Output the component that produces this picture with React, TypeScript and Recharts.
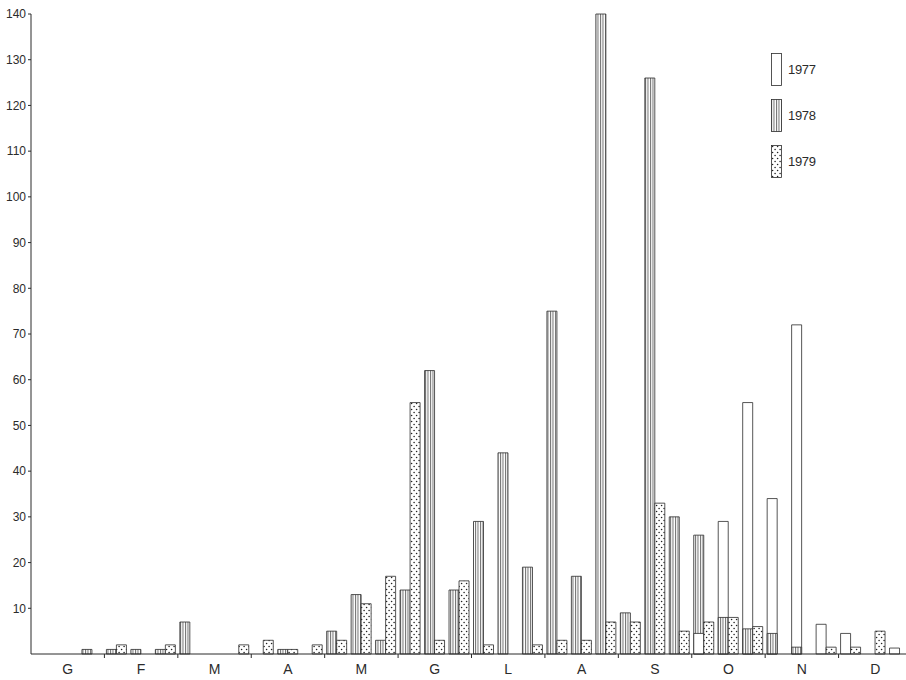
import React from 'react';
import { Bar, BarChart, Cell, XAxis, YAxis } from 'recharts';

// mesi (iniziali italiane), ogni mese diviso in tre decadi
const MONTHS = ['G', 'F', 'M', 'A', 'M', 'G', 'L', 'A', 'S', 'O', 'N', 'D'];

// valori per decade, 36 per anno
const Y1977 = [
  0, 0, 0, 0, 0, 0, 0, 0, 0, 0, 0, 0,
  0, 0, 0, 0, 0, 0, 0, 0, 0, 0, 0, 0,
  0, 0, 0, 4.5, 29, 55, 34, 72, 6.5, 4.5, 0, 1.3,
];
const Y1978 = [
  0, 0, 1, 1, 1, 1, 7, 0, 0, 0, 1, 0,
  5, 13, 3, 14, 62, 14, 29, 44, 19, 75, 17, 140,
  9, 126, 30, 26, 8, 5.5, 4.5, 1.5, 0, 0, 0, 0,
];
const Y1979 = [
  0, 0, 0, 2, 0, 2, 0, 0, 2, 3, 1, 2,
  3, 11, 17, 55, 3, 16, 2, 0, 2, 3, 3, 7,
  7, 33, 5, 7, 8, 6, 0, 0, 1.5, 1.5, 5, 0,
];

const YEARS = ['1977', '1978', '1979'];
const Y_TICKS = [10, 20, 30, 40, 50, 60, 70, 80, 90, 100, 110, 120, 130, 140];

const FILL: Record<string, string> = {
  '1977': '#ffffff',
  '1978': 'url(#stripes)',
  '1979': 'url(#dots)',
};

const CHART_W = 912;
const CHART_H = 680;
const Y_AXIS_W = 31;
const X_AXIS_H = 26;
const BAND = (CHART_W - Y_AXIS_W) / 36;
const INK = '#2b2b2b';
const FONT = '"Liberation Sans", Arial, sans-serif';

// 1977 e 1978 si sovrappongono nella stessa colonna: la piu alta sta dietro
const rows = Y1978.map((v78, i) => {
  const v77 = Y1977[i];
  const tallIs77 = v77 >= v78;
  const tall = Math.max(v77, v78);
  const short = Math.min(v77, v78);
  return {
    key: `d${i}`,
    tall: tall > 0 ? tall : null,
    short: short > 0 ? short : null,
    tallYear: tallIs77 ? '1977' : '1978',
    shortYear: tallIs77 ? '1978' : '1977',
    v1979: Y1979[i] > 0 ? Y1979[i] : null,
  };
});

function MonthTick(props: any) {
  const { x, y, index } = props;
  const pos = index % 3;
  return (
    <g>
      {pos === 0 && index > 0 && (
        <line
          x1={x - BAND / 2}
          x2={x - BAND / 2}
          y1={y}
          y2={y + 4}
          stroke={INK}
          strokeWidth={1}
        />
      )}
      {pos === 1 && (
        <text
          x={x}
          y={y + 20}
          textAnchor="middle"
          fontSize={14}
          fontFamily={FONT}
          fill={INK}
        >
          {MONTHS[Math.floor(index / 3)]}
        </text>
      )}
    </g>
  );
}

function Patterns() {
  return (
    <svg width={0} height={0} style={{ position: 'absolute' }}>
      <defs>
        <pattern id="stripes" patternUnits="userSpaceOnUse" width={2.5} height={10}>
          <rect width={2.5} height={10} fill="#ffffff" />
          <rect width={1} height={10} fill="#6e6e6e" />
        </pattern>
        <pattern id="dots" patternUnits="userSpaceOnUse" width={5} height={6}>
          <rect width={5} height={6} fill="#ffffff" />
          <circle cx={1.6} cy={1.5} r={0.8} fill="#222" />
          <circle cx={4.1} cy={4.5} r={0.8} fill="#222" />
        </pattern>
      </defs>
    </svg>
  );
}

function YearLegend() {
  return (
    <div style={{ position: 'absolute', left: 771, top: 53 }}>
      {YEARS.map((year, i) => (
        <div
          key={year}
          style={{ display: 'flex', alignItems: 'center', height: 32, marginBottom: i < 2 ? 14 : 0 }}
        >
          <svg width={11} height={33}>
            <rect x={0.5} y={0.5} width={10} height={32} fill={FILL[year]} stroke={INK} strokeWidth={0.8} />
          </svg>
          <span style={{ marginLeft: 6, fontSize: 13, fontFamily: FONT, color: INK, letterSpacing: -0.3 }}>
            {year}
          </span>
        </div>
      ))}
    </div>
  );
}

export default function App() {
  return (
    <div style={{ position: 'relative', width: 906, height: 680, overflow: 'hidden', background: '#fff' }}>
      <style>{'body{margin:0}'}</style>
      <Patterns />
      <BarChart
        width={CHART_W}
        height={CHART_H}
        data={rows}
        margin={{ top: 14, right: 0, bottom: 0, left: 0 }}
        barGap={0}
      >
        <XAxis
          xAxisId="back"
          dataKey="key"
          height={X_AXIS_H}
          interval={0}
          tickLine={false}
          tickSize={0}
          tickMargin={0}
          axisLine={{ stroke: INK }}
          tick={<MonthTick />}
        />
        <XAxis xAxisId="front" dataKey="key" hide />
        <YAxis
          width={Y_AXIS_W}
          domain={[0, 140]}
          ticks={Y_TICKS}
          interval={0}
          tickSize={3}
          tickMargin={2}
          axisLine={{ stroke: INK }}
          tickLine={{ stroke: INK }}
          tick={{ fontSize: 12, fontFamily: FONT, fill: INK }}
        />
        <Bar xAxisId="back" dataKey="tall" barSize={10} stroke={INK} strokeWidth={0.8} isAnimationActive={false}>
          {rows.map((r) => (
            <Cell key={r.key} fill={FILL[r.tallYear]} />
          ))}
        </Bar>
        <Bar xAxisId="back" dataKey="pad" barSize={10} isAnimationActive={false} />
        <Bar xAxisId="front" dataKey="short" barSize={10} stroke={INK} strokeWidth={0.8} isAnimationActive={false}>
          {rows.map((r) => (
            <Cell key={r.key} fill={FILL[r.shortYear]} />
          ))}
        </Bar>
        <Bar
          xAxisId="front"
          dataKey="v1979"
          barSize={10}
          fill={FILL['1979']}
          stroke={INK}
          strokeWidth={0.8}
          isAnimationActive={false}
        />
      </BarChart>
      <YearLegend />
    </div>
  );
}
